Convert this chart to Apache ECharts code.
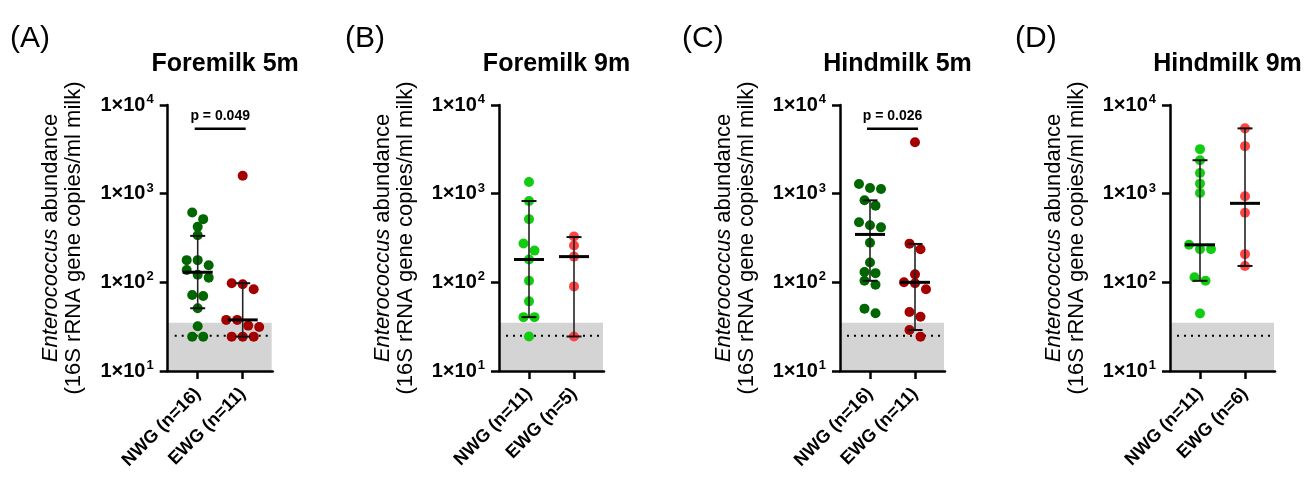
<!DOCTYPE html>
<html><head><meta charset="utf-8">
<script src="https://cdn.jsdelivr.net/npm/echarts@6/dist/echarts.min.js"></script>
<style>html,body{margin:0;padding:0;background:#fff}#c{width:1307px;height:481px}</style>
</head><body><div id="c"></div>
<script>
// ---------- data ----------
const panelLetters = ['(A)', '(B)', '(C)', '(D)'];
const panelTitles = ['Foremilk 5m', 'Foremilk 9m', 'Hindmilk 5m', 'Hindmilk 9m'];
const groupNames = ['NWG', 'EWG'];
const groupCounts = [[16, 11], [11, 5], [16, 11], [11, 6]];
const yTickValues = [10, 100, 1000, 10000];
const detectionLimit = 25;     // dotted line
const shadedUpTo = 35;         // grey band top
const pLabels = ['p = 0.049', null, 'p = 0.026', null];
const bracketLevel = 5400;

const nwgA = [614, 516, 423, 340, 178, 178, 156, 138, 122, 113, 72, 70, 51, 32, 24.4, 24.4];
const ewgA = [1592, 97.8, 95, 83.6, 37.7, 37.7, 32.5, 31.4, 24.4, 24.4, 24.4];
const nwgB = [1355, 826, 516, 274, 228, 181, 104, 61, 40.5, 40.5, 24.5];
const ewgB = [329, 260, 195, 90, 24.5];
const nwgC = [1285, 1159, 1130, 841, 733, 475, 440, 417, 280, 167, 131, 127, 104, 94, 50.5, 44.7];
const ewgC = [3793, 273, 236, 123, 100, 97.5, 83.4, 46.3, 41, 29, 24.4];
const nwgD = [3177, 2384, 1714, 1297, 1018, 265, 237, 237, 114, 104, 44.6];
const ewgD = [5450, 3436, 933, 610, 208, 153];

// [median, lower, upper] per group
const summaryA = [[130, 51, 334], [37.7, 24.4, 97.8]];
const summaryB = [[181, 40.5, 826], [195, 24.5, 324]];
const summaryC = [[347, 104, 841], [100, 29, 271]];
const summaryD = [[265, 104, 2384], [778, 153, 5450]];

const panelValues = [[nwgA, ewgA], [nwgB, ewgB], [nwgC, ewgC], [nwgD, ewgD]];
const panelSummary = [summaryA, summaryB, summaryC, summaryD];

// ---------- layout / style ----------
const FONT = "'Liberation Sans', Arial, Helvetica, sans-serif";
const darkColors = ['#006600', '#a50000'];
const lightColors = ['#11cc11', '#ff4444'];
const panelColors = [darkColors, lightColors, darkColors, lightColors];
const gridLefts = [167.7, 499, 840, 1170];
const GRID_TOP = 105, GRID_H = 266, GRID_W = 105;
const XMIN = 1 / 3, XMAX = 8 / 3;
const PX_PER_X = GRID_W / (XMAX - XMIN);
const PX_PER_DECADE = GRID_H / 3;
const STEP = 11;        // horizontal px between neighbouring dots
const ROW_GAP = 7.9;    // px vertical closeness to share a row

function swarm(values, center) {
  const pts = values.map(v => ({ v, y: Math.log10(v) * PX_PER_DECADE }))
    .sort((a, b) => b.y - a.y);
  const rows = [];
  let cur = null;
  pts.forEach(p => {
    if (cur && cur[0].y - p.y <= ROW_GAP) cur.push(p);
    else { cur = [p]; rows.push(cur); }
  });
  const out = [];
  rows.forEach(r => {
    r.forEach((p, i) => {
      const off = (i - (r.length - 1) / 2) * STEP;
      out.push([center + off / PX_PER_X, p.v]);
    });
  });
  return out;
}

const grids = [], xAxes = [], yAxes = [], series = [], titles = [];

for (let k = 0; k < 4; k++) {
  const L = gridLefts[k];
  grids.push({ left: L, top: GRID_TOP, width: GRID_W, height: GRID_H });
  const names = groupNames.map((g, i) => g + ' (n=' + groupCounts[k][i] + ')');
  xAxes.push({
    type: 'value', gridIndex: k, min: XMIN, max: XMAX,
    splitLine: { show: false },
    axisLine: { show: true, onZero: false, lineStyle: { color: '#000', width: 2.5 } },
    axisTick: { show: true, customValues: [1, 2], length: 8, lineStyle: { color: '#000', width: 2.5 } },
    axisLabel: {
      customValues: [1, 2], rotate: 45, margin: 20,
      formatter: v => names[Math.round(v) - 1] || '',
      color: '#000', fontSize: 18, fontWeight: 'bold', fontFamily: FONT
    }
  });
  yAxes.push({
    type: 'log', logBase: 10, gridIndex: k, min: 10, max: 10000,
    splitLine: { show: false }, minorTick: { show: false },
    axisLine: { show: true, lineStyle: { color: '#000', width: 2.5 } },
    axisTick: { show: true, length: 8, lineStyle: { color: '#000', width: 2.5 } },
    axisLabel: {
      margin: 14, color: '#000', fontFamily: FONT,
      formatter: v => '{b|1×10}{s|' + Math.round(Math.log10(v)) + '}',
      rich: {
        b: { fontSize: 20, fontWeight: 'bold', fontFamily: FONT, color: '#000', lineHeight: 24 },
        s: { fontSize: 13, fontWeight: 'bold', fontFamily: FONT, color: '#000', verticalAlign: 'top', lineHeight: 24, padding: [0, 0, 7, 1] }
      }
    },
    name: '{i|Enterococcus} abundance\n(16S rRNA gene copies/ml milk)',
    nameLocation: 'middle', nameGap: 82,
    nameTextStyle: {
      fontSize: 22, fontFamily: FONT, color: '#000', lineHeight: 23,
      rich: { i: { fontSize: 22, fontStyle: 'italic', fontFamily: FONT, color: '#000', lineHeight: 23 } }
    }
  });

  // grey band + dotted detection line
  series.push({
    type: 'custom', xAxisIndex: k, yAxisIndex: k, z: -1, silent: true,
    data: [[shadedUpTo, detectionLimit]],
    renderItem: (params, api) => {
      const a = api.coord([XMIN, 10]);
      const b = api.coord([XMAX, api.value(0)]);
      const l1 = api.coord([XMIN + 7 / PX_PER_X, api.value(1)]);
      const l2 = api.coord([XMAX, api.value(1)]);
      return {
        type: 'group', children: [
          { type: 'rect', shape: { x: a[0], y: b[1], width: b[0] - a[0] - 1, height: a[1] - b[1] }, style: { fill: '#d4d4d4' } },
          { type: 'line', shape: { x1: l1[0], y1: l1[1], x2: l2[0], y2: l2[1] }, style: { stroke: '#000', lineWidth: 2, lineDash: [2, 5] } }
        ]
      };
    }
  });

  // dots
  for (let g = 0; g < 2; g++) {
    series.push({
      type: 'scatter', xAxisIndex: k, yAxisIndex: k, z: 3,
      symbol: 'circle', symbolSize: 10,
      itemStyle: { color: panelColors[k][g], opacity: 1 },
      data: swarm(panelValues[k][g], g + 1)
    });
  }

  // median + range bars
  series.push({
    type: 'custom', xAxisIndex: k, yAxisIndex: k, z: 4, silent: true,
    data: panelSummary[k].map((s, g) => [g + 1, s[0], s[1], s[2]]),
    renderItem: (params, api) => {
      const x = api.value(0);
      const pm = api.coord([x, api.value(1)]);
      const pl = api.coord([x, api.value(2)]);
      const ph = api.coord([x, api.value(3)]);
      return {
        type: 'group', children: [
          { type: 'line', shape: { x1: pl[0], y1: pl[1], x2: ph[0], y2: ph[1] }, style: { stroke: '#222', lineWidth: 1.6 } },
          { type: 'line', shape: { x1: pl[0] - 7.5, y1: pl[1], x2: pl[0] + 7.5, y2: pl[1] }, style: { stroke: '#111', lineWidth: 2 } },
          { type: 'line', shape: { x1: ph[0] - 7.5, y1: ph[1], x2: ph[0] + 7.5, y2: ph[1] }, style: { stroke: '#111', lineWidth: 2 } },
          { type: 'line', shape: { x1: pm[0] - 15, y1: pm[1], x2: pm[0] + 15, y2: pm[1] }, style: { stroke: '#000', lineWidth: 3 } }
        ]
      };
    }
  });

  // significance bracket
  if (pLabels[k]) {
    series.push({
      type: 'custom', xAxisIndex: k, yAxisIndex: k, z: 4, silent: true,
      data: [[1, 2, bracketLevel]],
      renderItem: (params, api) => {
        const p1 = api.coord([api.value(0), api.value(2)]);
        const p2 = api.coord([api.value(1), api.value(2)]);
        return {
          type: 'group', children: [
            { type: 'line', shape: { x1: p1[0] - 3, y1: p1[1], x2: p2[0] + 3, y2: p2[1] }, style: { stroke: '#000', lineWidth: 2.5 } },
            { type: 'text', style: { text: pLabels[k], x: (p1[0] + p2[0]) / 2, y: p1[1] - 6, align: 'center', verticalAlign: 'bottom', font: 'bold 14px ' + FONT, fill: '#000' } }
          ]
        };
      }
    });
  }

  titles.push({
    text: panelTitles[k], left: L + GRID_W / 2, top: 47, textAlign: 'center',
    textStyle: { fontSize: 25, fontWeight: 'bold', fontFamily: FONT, color: '#000' }
  });
}
const letterLefts = [5, 340, 677, 1010];
panelLetters.forEach((t, k) => titles.push({
  text: t, left: letterLefts[k], top: 19,
  textStyle: { fontSize: 30, fontWeight: 'normal', fontFamily: FONT, color: '#000' }
}));

const chart = echarts.init(document.getElementById('c'), null, { renderer: 'canvas' });
chart.setOption({
  backgroundColor: '#fff', animation: false,
  title: titles, grid: grids, xAxis: xAxes, yAxis: yAxes, series: series
});
</script></body></html>
